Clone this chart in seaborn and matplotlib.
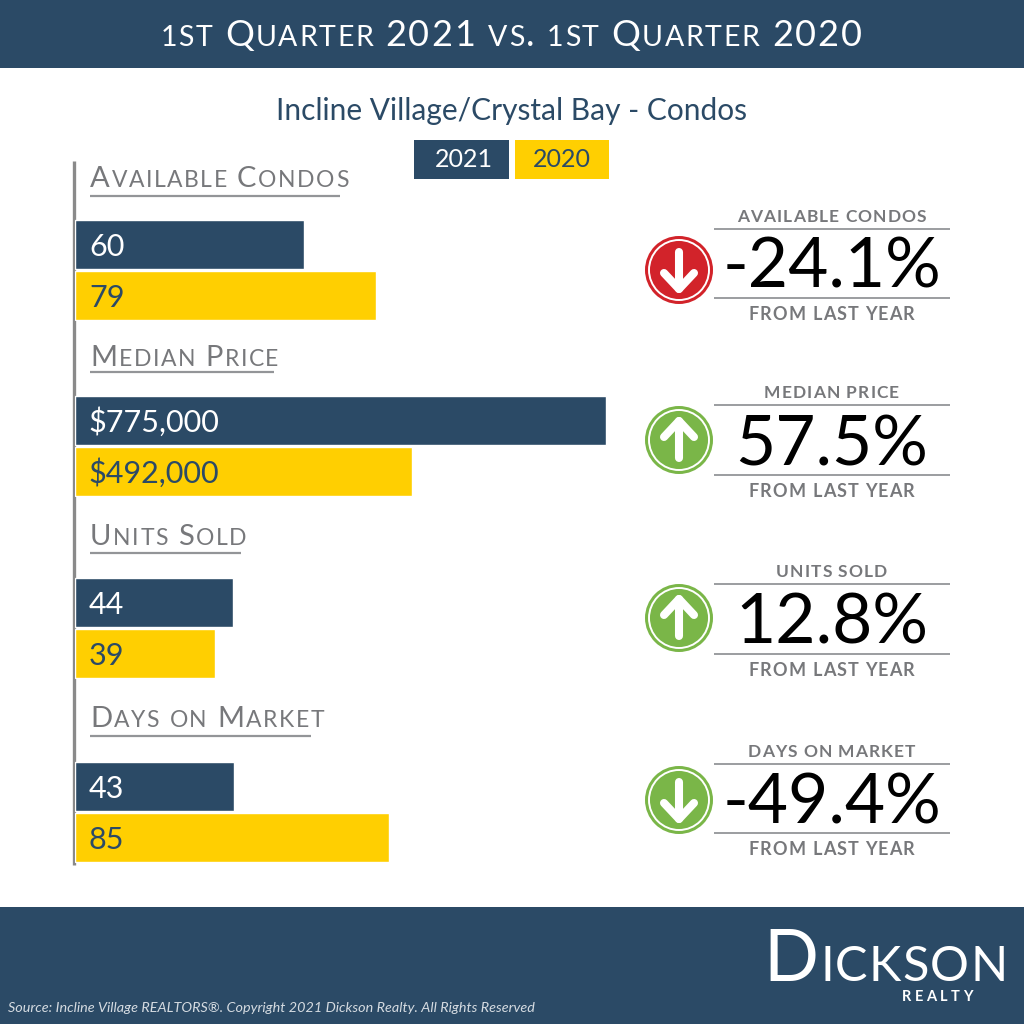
import pandas as pd
import seaborn as sns
import matplotlib.pyplot as plt
from matplotlib.patches import Circle, Rectangle

# data
metrics = ['Available Condos', 'Median Price', 'Units Sold', 'Days on Market']
years = ['2021', '2020']
values_2021 = [60, 775000, 44, 43]
values_2020 = [79, 492000, 39, 85]
labels_2021 = ['60', '$775,000', '44', '43']
labels_2020 = ['79', '$492,000', '39', '85']
changes = ['-24.1%', '57.5%', '12.8%', '-49.4%']
arrows_up = [False, True, True, False]
arrow_good = [False, True, True, True]
x_limits = [141.5, 788800, 150, 146]

NAVY = '#2b4a66'
YELLOW = '#ffcf01'
GRAY = '#77787b'
LINE = '#939598'
RED = '#d2232a'
GREEN = '#7ab648'

# layout, in pixels of the 1024 image
bar_tops = [219, 395, 577, 761]
head_base = [187, 366, 545, 727]
head_line = [(196, 340), (372, 274), (553, 241), (736, 311)]
stat_top = [229, 405, 584, 764]
stat_bot = [298, 475, 654, 833]
stat_base = [288, 465, 643, 823]
circle_y = [270, 440, 618, 800]

sns.set_theme(style='white')
plt.rcParams['font.family'] = ['Lato', 'DejaVu Sans']

fig = plt.figure(figsize=(10.24, 10.24), dpi=100, facecolor='white')
bg = fig.add_axes([0, 0, 1, 1])
bg.set_xlim(0, 1024)
bg.set_ylim(1024, 0)
bg.axis('off')
renderer = fig.canvas.get_renderer()


def run_width(t):
    return t.get_window_extent(renderer).width


def small_caps(x, y, s, big, small, color, center=False, track=0.0, gap=0.3, weight='normal'):
    # matplotlib has no small caps so lay the letters out one at a time
    items = []
    pos = 0
    for i, ch in enumerate(s):
        if ch == ' ':
            pos += gap * big / 0.72
            continue
        low = ch.islower() or (ch.isdigit() and i + 1 < len(s) and s[i + 1].islower())
        t = bg.text(0, y, ch.upper(), fontsize=small if low else big, color=color,
                    fontweight=weight, va='baseline', ha='left')
        w = renderer.get_text_width_height_descent(ch.upper(), t.get_fontproperties(), False)[0]
        items.append((t, pos))
        pos += w + track + (small if low else big) * 0.05
    start = x - pos / 2 if center else x
    for t, p in items:
        t.set_x(start + p)


# header and footer
bg.add_patch(Rectangle((0, 0), 1024, 68, color=NAVY, lw=0))
bg.add_patch(Rectangle((0, 907), 1024, 117, color=NAVY, lw=0))
small_caps(512, 46, '1st Quarter 2021 vs. 1st Quarter 2020', 26, 20.5, 'white', center=True, track=0.6)
bg.text(512, 120, 'Incline Village/Crystal Bay - Condos', fontsize=21.5, color=NAVY,
        ha='center', va='baseline')

# legend boxes
bg.add_patch(Rectangle((414, 140), 95, 39, color=NAVY, lw=0))
bg.add_patch(Rectangle((515, 140), 94, 39, color=YELLOW, lw=0))
bg.text(464, 167, years[0], fontsize=18, color='white', ha='center', va='baseline')
bg.text(562, 167, years[1], fontsize=18, color=NAVY, ha='center', va='baseline')

# left axis line
bg.plot([73.5, 73.5], [161, 865], color='#8a8a8a', lw=2.4, solid_capstyle='butt')

for i, metric in enumerate(metrics):
    small_caps(90, head_base[i], metric, 21, 16.5, GRAY, track=0.7)
    bg.plot([90, head_line[i][1]], [head_line[i][0]] * 2, color=LINE, lw=1.6, solid_capstyle='butt')

    ax = fig.add_axes([75 / 1024, 1 - (bar_tops[i] + 102) / 1024, 540 / 1024, 102 / 1024])
    df = pd.DataFrame({'year': years, 'value': [values_2021[i], values_2020[i]]})
    sns.barplot(data=df, y='year', x='value', hue='year', palette=[NAVY, YELLOW],
                saturation=1, width=0.96, legend=False, ax=ax)
    ax.set_xlim(0, x_limits[i])
    ax.set_ylim(1.5, -0.5)
    ax.axis('off')
    ax.patch.set_alpha(0)
    ax.annotate(labels_2021[i], (0, 0), xytext=(10, -8), textcoords='offset points',
                fontsize=22, color='white', va='baseline')
    ax.annotate(labels_2020[i], (0, 1), xytext=(10, -8), textcoords='offset points',
                fontsize=22, color=NAVY, va='baseline')

    # right hand stat
    bg.plot([714, 950], [stat_top[i]] * 2, color=LINE, lw=1.3, solid_capstyle='butt')
    bg.plot([714, 950], [stat_bot[i]] * 2, color=LINE, lw=1.3, solid_capstyle='butt')
    small_caps(832, stat_top[i] - 7, metric.upper(), 12.5, 12.5, GRAY, center=True, track=0.5, weight='bold')
    bg.text(832, stat_base[i], changes[i], fontsize=50, color='black', ha='center', va='baseline')
    small_caps(832, stat_bot[i] + 22, 'FROM LAST YEAR', 13, 13, GRAY, center=True, track=0.5, weight='bold')

    # arrow badge
    cy = circle_y[i]
    col = GREEN if arrow_good[i] else RED
    bg.add_patch(Circle((679, cy), 34, color=col, lw=0))
    bg.add_patch(Circle((679, cy), 30, fill=False, ec='white', lw=1.4))
    d = -1 if arrows_up[i] else 1
    bg.plot([679, 679], [cy - 18 * d, cy + 19 * d], color='white', lw=5.8, solid_capstyle='round')
    bg.plot([664, 679, 694], [cy + 3 * d, cy + 19 * d, cy + 3 * d], color='white', lw=5.8,
            solid_capstyle='round', solid_joinstyle='round')

# footer text
small_caps(763, 981, 'Dickson', 52, 35, 'white', track=-0.5)
small_caps(939, 1001, 'REALTY', 10.5, 10.5, 'white', center=True, track=3, weight='bold')
bg.text(8, 1012, 'Source: Incline Village REALTORS®. Copyright 2021 Dickson Realty. All Rights Reserved',
        fontsize=10.4, color='#d5dbe1', style='italic', ha='left', va='baseline')

fig.savefig('out.png', dpi=100)
